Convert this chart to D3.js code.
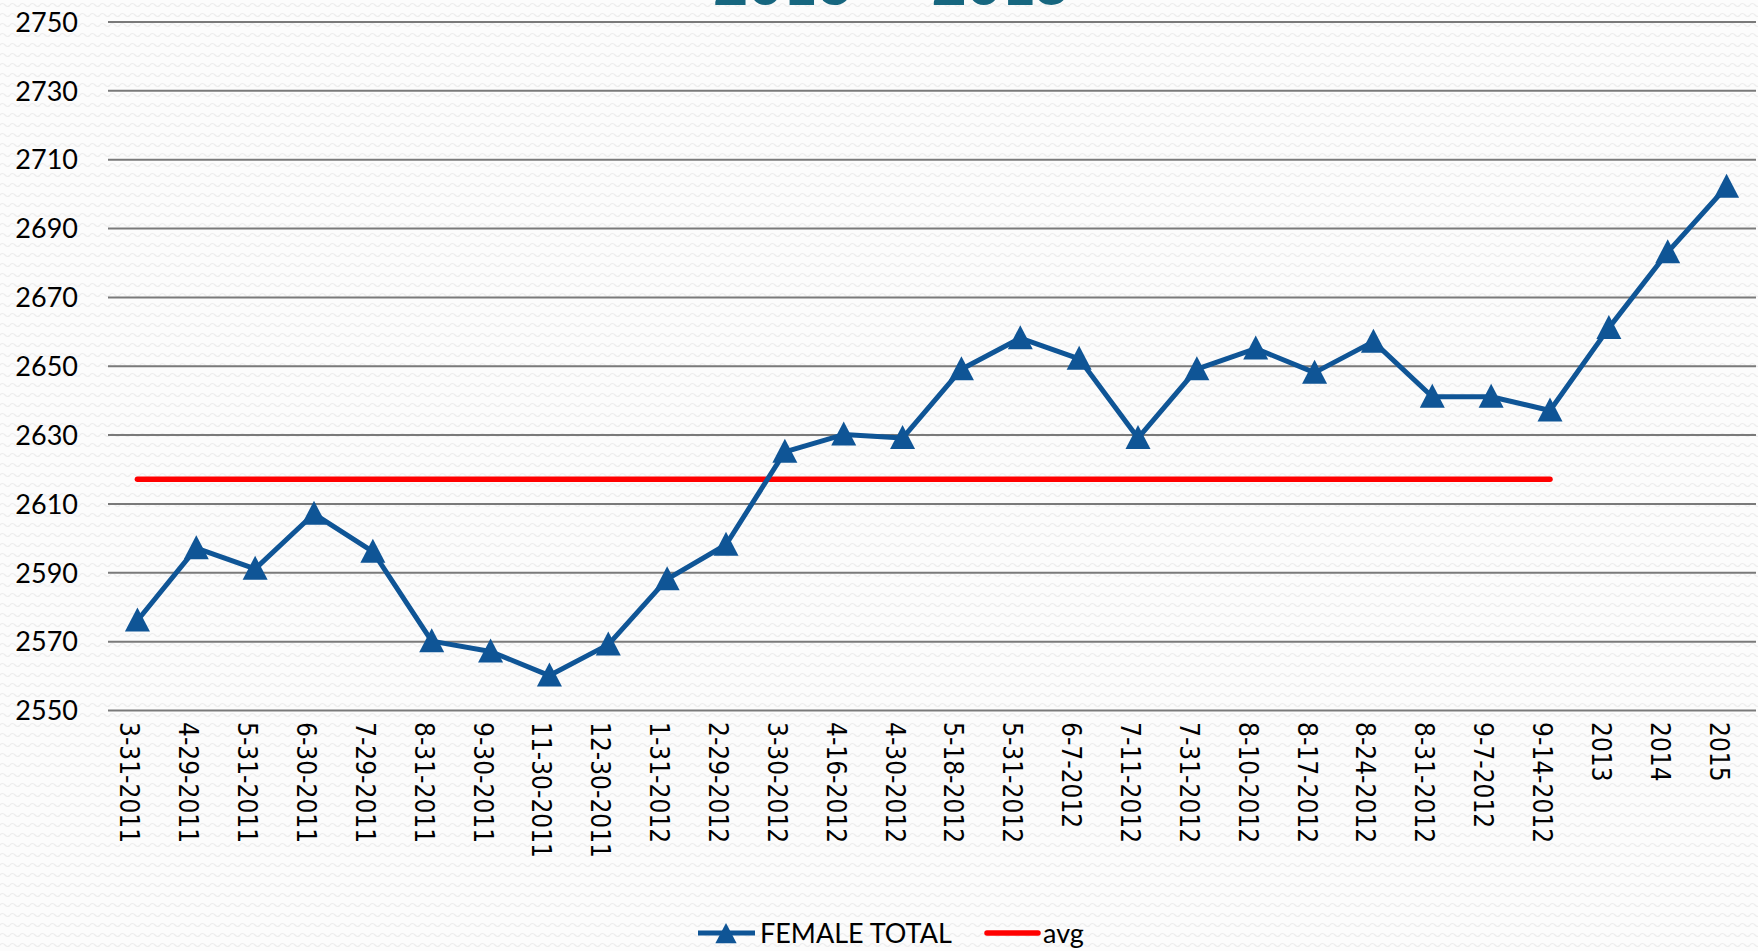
<!DOCTYPE html>
<html>
<head>
<meta charset="utf-8">
<script src="https://cdn.jsdelivr.net/npm/d3@7"></script>
<style>
  html, body { margin: 0; padding: 0; background: #fcfcfc; overflow: hidden; }
  #d3 svg { display: block; }
</style>
</head>
<body>
<div id="d3"></div>
<script>
var categories = ['3-31-2011', '4-29-2011', '5-31-2011', '6-30-2011', '7-29-2011', '8-31-2011',
  '9-30-2011', '11-30-2011', '12-30-2011', '1-31-2012', '2-29-2012', '3-30-2012', '4-16-2012',
  '4-30-2012', '5-18-2012', '5-31-2012', '6-7-2012', '7-11-2012', '7-31-2012', '8-10-2012',
  '8-17-2012', '8-24-2012', '8-31-2012', '9-7-2012', '9-14-2012', '2013', '2014', '2015'];
var femaleTotal = [2576, 2597, 2591, 2607, 2596, 2570, 2567, 2560, 2569, 2588, 2598, 2625, 2630,
  2629, 2649, 2658, 2652, 2629, 2649, 2655, 2648, 2657, 2641, 2641, 2637, 2661, 2683, 2702];
// avg series only runs over the dated points
var avgValue = 2617;
var avgRange = ['3-31-2011', '9-14-2012'];
var yTicks = [2550, 2570, 2590, 2610, 2630, 2650, 2670, 2690, 2710, 2730, 2750];
var title = '2013 \u2013 2015';

(function() {
  var width = 1758;
  var height = 951;
  var margin = ({top: 21.5, right: 2, bottom: 241, left: 108});
  var blue = '#0f5596';
  var red = '#ff0000';

  var x = d3.scaleBand()
    .domain(categories)
    .range([margin.left, width - margin.right]);

  var y = d3.scaleLinear()
    .domain([2550, 2750])
    .range([height - margin.bottom, margin.top]);

  var cx = d => x(d) + x.bandwidth() / 2;

  // triangle marker, a bit heavier below the vertex like in excel
  var tri = function(px, py, s) {
    return `M${px},${py - 13 * s}L${px + 12.5 * s},${py + 11 * s}L${px - 12.5 * s},${py + 11 * s}Z`;
  };

  var svg = d3.select('#d3')
    .append('svg')
    .attr('width', width)
    .attr('height', height);

  // faint wavy paper texture
  var pat = svg.append('defs').append('pattern')
    .attr('id', 'waves')
    .attr('patternUnits', 'userSpaceOnUse')
    .attr('width', 10)
    .attr('height', 10);
  pat.append('rect').attr('width', 10).attr('height', 10).attr('fill', '#fcfcfc');
  pat.append('path')
    .attr('d', 'M0,5 Q2.5,2 5,5 T10,5')
    .attr('fill', 'none')
    .attr('stroke', '#ededed')
    .attr('stroke-width', 1.2);
  svg.append('rect').attr('width', width).attr('height', height).attr('fill', 'url(#waves)');

  svg.append('text')
    .attr('x', 892)
    .attr('y', 4.5)
    .attr('text-anchor', 'middle')
    .attr('font-family', 'Lato, sans-serif')
    .attr('font-weight', 900)
    .attr('font-size', 60)
    .attr('word-spacing', 8)
    .attr('fill', '#16667f')
    .text(title);

  var yAxis = function(g) {
    g.attr('transform', `translate(${margin.left},0)`)
      .call(d3.axisLeft(y).tickValues(yTicks).tickFormat(d3.format('d'))
        .tickSize(-(width - margin.left - margin.right)).tickPadding(30))
      .call(g => g.select('.domain').remove())
      .call(g => g.selectAll('.tick line').attr('stroke', '#7a7a7a').attr('stroke-width', 2))
      .call(g => g.selectAll('.tick text')
        .attr('fill', '#000')
        .attr('font-family', 'Lato, sans-serif')
        .attr('font-size', 27)
        .attr('dy', '0.36em'));
  };

  var xAxis = function(g) {
    g.attr('transform', `translate(0,${height - margin.bottom})`)
      .call(d3.axisBottom(x).tickSize(0))
      .call(g => g.select('.domain').remove())
      .call(g => g.selectAll('.tick text')
        .attr('fill', '#000')
        .attr('font-family', '"DejaVu Sans Condensed", "DejaVu Sans", sans-serif')
        .attr('font-stretch', 'condensed')
        .attr('font-size', 26)
        .attr('text-anchor', 'start')
        .attr('transform', 'rotate(90)')
        .attr('x', 12)
        .attr('y', 17)
        .attr('dy', 0));
  };

  svg.append('g').call(yAxis);
  svg.append('g').call(xAxis);

  // avg line
  svg.append('line')
    .attr('x1', cx(avgRange[0]))
    .attr('x2', cx(avgRange[1]))
    .attr('y1', y(avgValue))
    .attr('y2', y(avgValue))
    .attr('stroke', red)
    .attr('stroke-width', 5.5)
    .attr('stroke-linecap', 'round');

  var line = d3.line()
    .x((d, i) => cx(categories[i]))
    .y(d => y(d));

  svg.append('path')
    .datum(femaleTotal)
    .attr('fill', 'none')
    .attr('stroke', blue)
    .attr('stroke-width', 5)
    .attr('stroke-linejoin', 'round')
    .attr('d', line);

  svg.append('g')
    .attr('fill', blue)
    .selectAll('path')
    .data(femaleTotal)
    .join('path')
      .attr('d', (d, i) => tri(cx(categories[i]), y(d), 1));

  // legend
  var leg = svg.append('g')
    .attr('font-family', 'Lato, sans-serif')
    .attr('font-size', 27)
    .attr('fill', '#000');
  leg.append('line')
    .attr('x1', 698).attr('x2', 755).attr('y1', 933).attr('y2', 933)
    .attr('stroke', blue).attr('stroke-width', 5);
  leg.append('path')
    .attr('d', tri(726, 934, 0.85))
    .attr('fill', blue);
  leg.append('text').attr('x', 760).attr('y', 943).text('FEMALE TOTAL');
  leg.append('line')
    .attr('x1', 987).attr('x2', 1038).attr('y1', 933).attr('y2', 933)
    .attr('stroke', red).attr('stroke-width', 5.5)
    .attr('stroke-linecap', 'round');
  leg.append('text').attr('x', 1043).attr('y', 943).text('avg');
})();
</script>
</body>
</html>
